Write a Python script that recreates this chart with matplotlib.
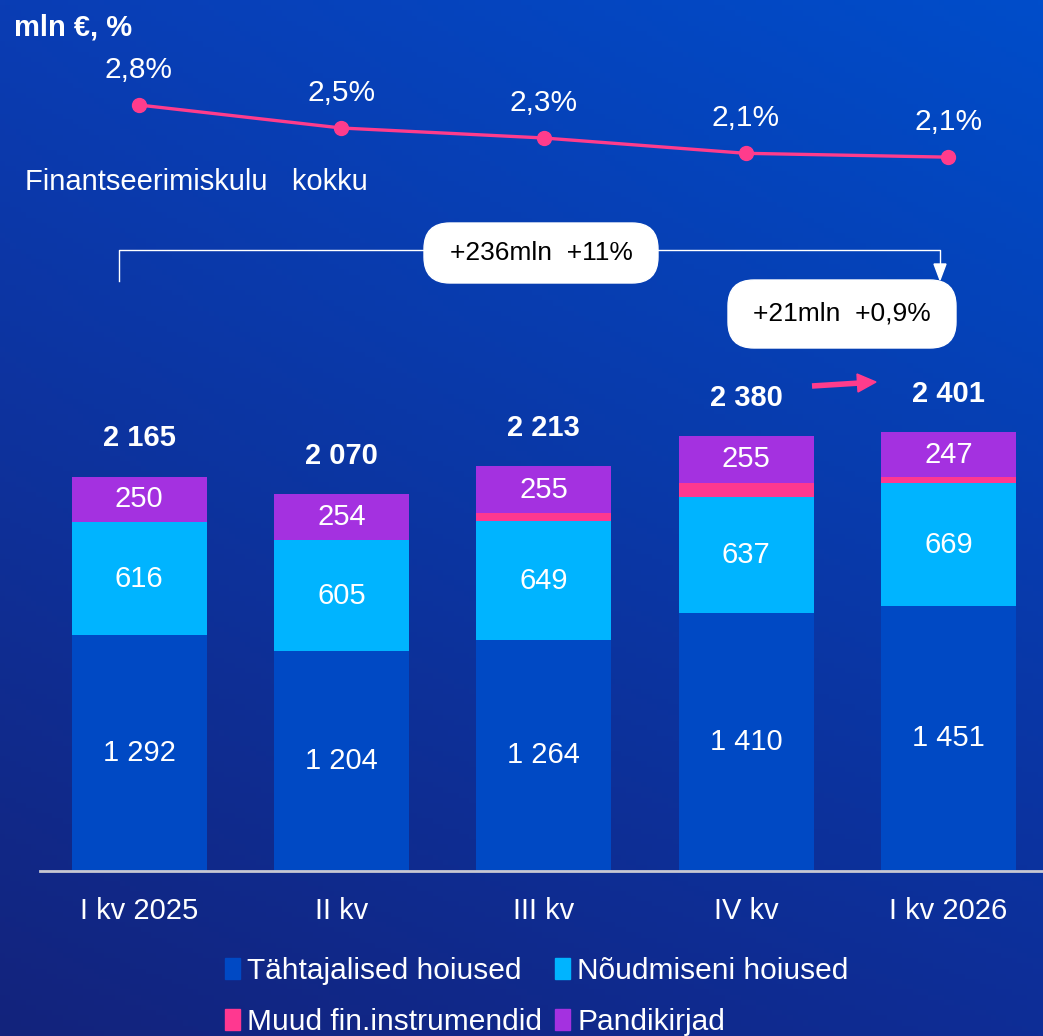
"""
Deposits structure by quarter with funding cost line (mln EUR, %).
"""
import numpy as np
import matplotlib.pyplot as plt
from matplotlib.colors import to_rgb
from matplotlib.patches import Patch, FancyBboxPatch

plt.rcParams["font.family"] = ["Liberation Sans", "DejaVu Sans"]

# ── Data ─────────────────────────────────────────────────────────────────────
QUARTERS = ["I kv 2025", "II kv", "III kv", "IV kv", "I kv 2026"]
TAHTAJALISED = [1292, 1204, 1264, 1410, 1451]
NOUDMISENI = [616, 605, 649, 637, 669]
MUUD = [0, 0, 45, 78, 34]
PANDIKIRJAD = [250, 254, 255, 255, 247]
TOTALS = ["2 165", "2 070", "2 213", "2 380", "2 401"]

FUNDING_COST = [2.80, 2.50, 2.37, 2.17, 2.12]
FUNDING_LABELS = ["2,8%", "2,5%", "2,3%", "2,1%", "2,1%"]

# ── Styling ──────────────────────────────────────────────────────────────────
C_TAHT = "#0049c4"
C_NOUD = "#00b4ff"
C_MUUD = "#ff3890"
C_PAND = "#a431e0"
C_LINE = "#ff3c8c"

W, H = 1043, 1036
fig = plt.figure(figsize=(W / 100, H / 100), dpi=100)

# gradient background (bright top-right, dark bottom-left)
tl, tr = np.array(to_rgb("#0a3db4")), np.array(to_rgb("#004dca"))
bl, br = np.array(to_rgb("#13237c")), np.array(to_rgb("#0e2d96"))
u = np.linspace(0, 1, 200)[None, :, None]
v = np.linspace(0, 1, 200)[:, None, None]
grad = (1 - v) * ((1 - u) * tl + u * tr) + v * ((1 - u) * bl + u * br)
bg = fig.add_axes([0, 0, 1, 1], zorder=0)
bg.imshow(grad, aspect="auto", extent=[0, 1, 0, 1], origin="upper")
bg.axis("off")

# ── Bars ─────────────────────────────────────────────────────────────────────
px_per_x = 202.35
x0_px = 139
left_px, base_px = 40, 871
px_per_unit = 0.1828

rect = [left_px / W, (H - base_px) / H, (W - left_px) / W, base_px / H]
ax = fig.add_axes(rect, zorder=1)
ax.patch.set_alpha(0)
ax.set_xlim((left_px - x0_px) / px_per_x, (W - x0_px) / px_per_x)
ax.set_ylim(0, base_px / px_per_unit)

x = np.arange(len(QUARTERS))
width = 135 / px_per_x
taht = np.array(TAHTAJALISED)
noud = np.array(NOUDMISENI)
muud = np.array(MUUD)
pand = np.array(PANDIKIRJAD)

ax.bar(x, taht, width, color=C_TAHT, label="Tähtajalised hoiused")
ax.bar(x, noud, width, bottom=taht, color=C_NOUD, label="Nõudmiseni hoiused")
ax.bar(x, muud, width, bottom=taht + noud, color=C_MUUD, label="Muud fin.instrumendid")
ax.bar(x, pand, width, bottom=taht + noud + muud, color=C_PAND, label="Pandikirjad")

for i in range(len(x)):
    ax.text(x[i], taht[i] / 2, f"{taht[i]:,}".replace(",", " "), ha="center", va="center",
            color="white", fontsize=21)
    ax.text(x[i], taht[i] + noud[i] / 2, str(noud[i]), ha="center", va="center",
            color="white", fontsize=21)
    top = taht[i] + noud[i] + muud[i] + pand[i]
    ax.text(x[i], top - pand[i] / 2, str(pand[i]), ha="center", va="center",
            color="white", fontsize=21)
    ax.annotate(TOTALS[i], (x[i], top), xytext=(0, 27.5), textcoords="offset points",
                ha="center", va="center", color="white", fontsize=21, fontweight="bold")

for s in ["top", "right", "left"]:
    ax.spines[s].set_visible(False)
ax.spines["bottom"].set_color("#c8c8d2")
ax.spines["bottom"].set_linewidth(2)
ax.set_yticks([])
ax.set_xticks(x)
ax.set_xticklabels(QUARTERS, color="white", fontsize=21)
ax.tick_params(axis="x", length=0, pad=19)

# ── Funding cost line ────────────────────────────────────────────────────────
k = 76.7  # px per percentage point
lax = fig.add_axes(rect, zorder=2)
lax.patch.set_alpha(0)
lax.axis("off")
lax.set_xlim(ax.get_xlim())
lax.set_ylim(2.8 - (base_px - 105) / k, 2.8 + 105 / k)
lax.plot(x, FUNDING_COST, color=C_LINE, linewidth=2.4, marker="o", markersize=10)
for i in range(len(x)):
    lax.annotate(FUNDING_LABELS[i], (x[i], FUNDING_COST[i]), xytext=(0, 25.5),
                 textcoords="offset points", ha="center", va="center",
                 color="white", fontsize=21.5)

# ── Titles, annotations ──────────────────────────────────────────────────────
fig.text(14 / W, 1 - 27 / H, "mln €, %", color="white", fontsize=21,
         fontweight="bold", va="center", ha="left")
fig.text(25 / W, 1 - 182 / H, "Finantseerimiskulu   kokku", color="white",
         fontsize=21, va="center", ha="left")


def fx(px):
    return px / W


def fy(py):
    return 1 - py / H


# bracket with arrow
fig.add_artist(plt.Line2D([fx(119), fx(119), fx(940), fx(940)],
                          [fy(281), fy(250), fy(250), fy(266)],
                          color="white", linewidth=1))
fig.add_artist(plt.Polygon([[fx(934), fy(264)], [fx(946), fy(264)], [fx(940), fy(280)]],
                           closed=True, color="white"))


def pill(x1, y1, x2, y2, text):
    r = 26
    box = FancyBboxPatch((fx(x1 + r), fy(y2 - r)), fx(x2 - x1 - 2 * r), (y2 - y1 - 2 * r) / H,
                         boxstyle=f"round,pad={r / W},rounding_size={r / W}",
                         transform=fig.transFigure, facecolor="white", edgecolor="white",
                         mutation_aspect=W / H)
    fig.add_artist(box)
    fig.text(fx((x1 + x2) / 2), fy((y1 + y2) / 2), text, ha="center", va="center",
             color="black", fontsize=19)


pill(424, 223, 658, 283, "+236mln  +11%")
pill(728, 280, 956, 348, "+21mln  +0,9%")

# pink arrow between IV kv and I kv 2026
fig.add_artist(plt.Line2D([fx(812), fx(860)], [fy(386), fy(383)], color=C_LINE, linewidth=4,
                          solid_capstyle="butt"))
fig.add_artist(plt.Polygon([[fx(857), fy(374)], [fx(876), fy(382)], [fx(858), fy(392)]],
                           closed=True, color=C_LINE))

# ── Legend ───────────────────────────────────────────────────────────────────
handles = [Patch(color=C_TAHT), Patch(color=C_MUUD), Patch(color=C_NOUD), Patch(color=C_PAND)]
labels = ["Tähtajalised hoiused", "Muud fin.instrumendid", "Nõudmiseni hoiused", "Pandikirjad"]
fig.legend(handles, labels, ncol=2, loc="upper left", bbox_to_anchor=(225 / W, fy(957)),
           frameon=False, fontsize=21.5, labelcolor="white", handlelength=0.5,
           handleheight=0.7, handletextpad=0.25, columnspacing=0.42, labelspacing=0.77,
           borderpad=0, borderaxespad=0)

fig.savefig("out.png", dpi=100)
